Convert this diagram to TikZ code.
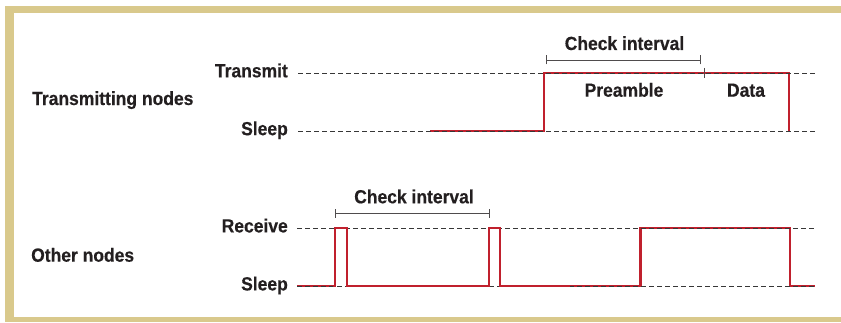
\documentclass[tikz,border=0pt]{standalone}
\usepackage{fontspec}
\newfontfamily\lblfont{Liberation Sans}[FakeStretch=0.92, FakeBold=0.4]
\definecolor{frametan}{RGB}{217,201,140}
\definecolor{sigred}{RGB}{192,32,45}
\definecolor{inkgray}{RGB}{35,31,32}
\definecolor{dashgray}{RGB}{55,55,55}
\tikzset{
  lbl/.style={font=\lblfont\bfseries\fontsize{19}{21}\selectfont, text=inkgray, inner sep=0pt},
  level/.style={draw=dashgray, line width=0.8pt, dash pattern=on 5pt off 3pt},
  signal/.style={draw=sigred, line width=2.6pt, line join=miter},
  bracket/.style={draw=inkgray!80, line width=0.8pt},
}
\begin{document}
\begin{tikzpicture}[x=1pt,y=1pt]
\useasboundingbox (0,0) rectangle (841,322);
% frame
\fill[frametan] (5,308.5) rectangle (841,316);
\fill[frametan] (5,0) rectangle (13.5,316);
\fill[frametan] (5,0) rectangle (841,5);

% level coordinates
\coordinate (txA) at (298,249);  \coordinate (txB) at (815,249);
\coordinate (slA) at (298,191);  \coordinate (slB) at (815,191);
\coordinate (rxA) at (297,94);   \coordinate (rxB) at (815,94);
\coordinate (sbA) at (297,36);   \coordinate (sbB) at (815,36);

% labels
\node[lbl, anchor=base east] (ltx) at (288,244.7) {Transmit};
\node[lbl, anchor=base east] (lsl) at (288,186.8) {Sleep};
\node[lbl, anchor=base west] (ltn) at (32,217) {Transmitting nodes};
\node[lbl, anchor=base east] (lrx) at (288,89.6) {Receive};
\node[lbl, anchor=base east] (lsb) at (288,31.6) {Sleep};
\node[lbl, anchor=base west] (lon) at (31,60.3) {Other nodes};

% dashed levels
\draw[level] (txA) -- (txB);
\draw[level] (slA) -- (slB);
\draw[level] (rxA) -- (rxB);
\draw[level] (sbA) -- (sbB);

% transmitting node signal
\draw[signal] (430,191) -- (544,191) -- (544,249) -- (789,249) -- (789,191);
% other node signal
\draw[signal] (sbA) -- (335,36) -- (335,94) -- (347,94) -- (347,36)
  -- (489,36) -- (489,94) -- (500,94) -- (500,36)
  -- (640.7,36) -- (640.7,94) -- (790,94) -- (790,36) -- (sbB);

% dashes showing through the signal
\begin{scope}
  \clip (420,180) rectangle (800,260);
  \draw[level] (txA) -- (txB);
  \draw[level] (slA) -- (slB);
\end{scope}
\begin{scope}
  \clip (290,30) rectangle (333,42);
  \draw[level] (sbA) -- (sbB);
\end{scope}
\begin{scope}
  \clip (570,30) rectangle (820,100);
  \draw[level] (rxA) -- (rxB);
  \draw[level] (sbA) -- (sbB);
\end{scope}

% check interval brackets
\coordinate (ciA) at (546.7,262); \coordinate (ciB) at (700.7,262);
\draw[bracket] (ciA) -- (ciB);
\draw[bracket] ([yshift=-4.5pt]ciA) -- ([yshift=4.5pt]ciA);
\draw[bracket] ([yshift=-4.5pt]ciB) -- ([yshift=4.5pt]ciB);
\node[lbl, anchor=base] (cit) at (624.5,272) {Check interval};

\coordinate (cbA) at (335,108.7); \coordinate (cbB) at (489,108.7);
\draw[bracket] (cbA) -- (cbB);
\draw[bracket] ([yshift=-4.5pt]cbA) -- ([yshift=4.5pt]cbA);
\draw[bracket] ([yshift=-4.5pt]cbB) -- ([yshift=4.5pt]cbB);
\node[lbl, anchor=base] (cib) at (414,118.7) {Check interval};

% preamble / data split
\coordinate (dv) at (704,249);
\draw[bracket] ([yshift=5pt]dv) -- ([yshift=-5pt]dv);
\node[lbl, anchor=base] (pre) at (624,225.3) {Preamble};
\node[lbl, anchor=base] (dat) at (746,225.3) {Data};
\end{tikzpicture}
\end{document}
